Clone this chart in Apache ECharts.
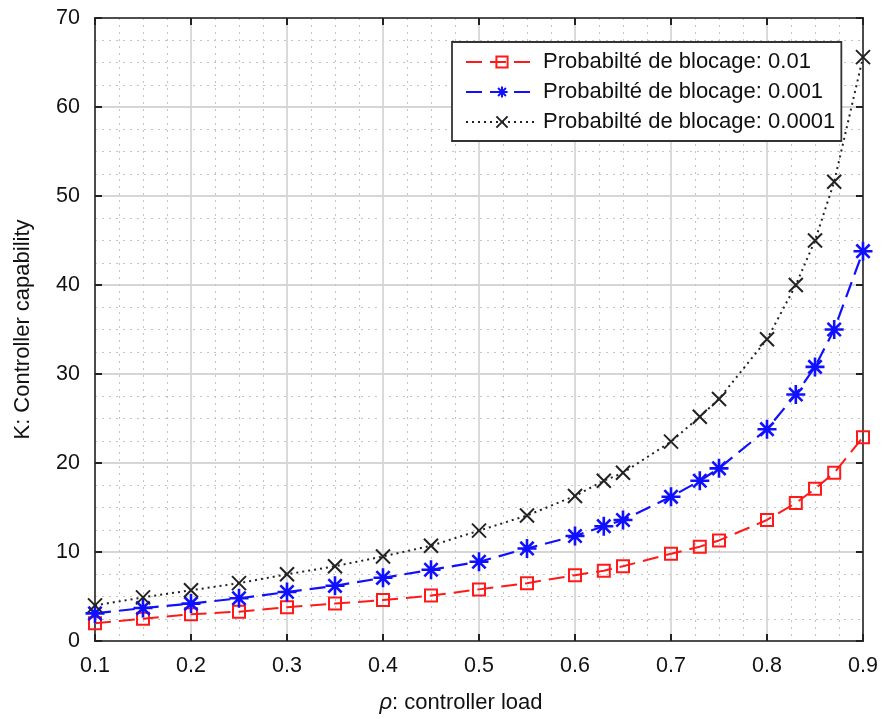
<!DOCTYPE html>
<html><head><meta charset="utf-8">
<script src="https://cdn.jsdelivr.net/npm/echarts@6/dist/echarts.min.js"></script>
<style>html,body{margin:0;padding:0;background:#fff}#c{width:886px;height:719px}</style>
</head><body><div id="c"></div>
<script>
const loads = [0.1,0.15,0.2,0.25,0.3,0.35,0.4,0.45,0.5,0.55,0.6,0.63,0.65,0.7,0.73,0.75,0.8,0.83,0.85,0.87,0.9];
const k_p01 = [2.0,2.5,3.0,3.3,3.8,4.2,4.6,5.1,5.8,6.5,7.4,7.9,8.4,9.8,10.6,11.3,13.6,15.5,17.1,18.9,22.9];
const k_p001 = [3.1,3.7,4.2,4.8,5.5,6.2,7.1,8.0,8.9,10.4,11.8,12.9,13.6,16.2,18.0,19.4,23.8,27.7,30.8,35.0,43.8];
const k_p0001 = [4.0,4.9,5.7,6.5,7.5,8.4,9.5,10.7,12.4,14.1,16.3,18.0,18.9,22.4,25.2,27.2,33.9,40.0,45.0,51.6,65.6];
const seriesNames = ['Probabilté de blocage: 0.01','Probabilté de blocage: 0.001','Probabilté de blocage: 0.0001'];
const xTicks = ['0.1','0.2','0.3','0.4','0.5','0.6','0.7','0.8','0.9'];

const zip = (ys) => loads.map((x,i)=>[x,ys[i]]);
const FONT = 'Liberation Sans';
const star = 'path://M5,0L5,10M0,5L10,5M1.5,1.5L8.5,8.5M8.5,1.5L1.5,8.5';
const cross = 'path://M0,0L10,10M10,0L0,10';

const chart = echarts.init(document.getElementById('c'), null, {renderer:'canvas'});
const gridLine = {show:true, lineStyle:{color:'#d6d6d6', width:1.8}};
const minorLine = {show:true, lineStyle:{color:'#c4c4c4', width:1, type:[2,5]}};
chart.setOption({
  animation:false,
  backgroundColor:'#fff',
  grid:{left:95, right:23, top:18, bottom:74, show:true, borderColor:'#222', borderWidth:1.5, backgroundColor:'transparent', containLabel:false},
  legend:{
    left:452, top:42, orient:'vertical', itemGap:8,
    padding:[9,6,8,13],
    backgroundColor:'#fff', borderColor:'#333', borderWidth:1.8,
    itemWidth:72, itemHeight:14,
    textStyle:{fontFamily:FONT, fontSize:22, color:'#111'},
    data:seriesNames
  },
  xAxis:[{
    type:'value', min:0.1, max:0.9, interval:0.1,
    axisLine:{show:true, onZero:false, lineStyle:{color:'#222', width:1.5}},
    axisTick:{show:true, inside:true, length:7, lineStyle:{color:'#222', width:2}},
    axisLabel:{fontFamily:FONT, fontSize:21.5, color:'#111', margin:14, formatter:(v)=>{const s=v.toFixed(1); return xTicks.includes(s)?s:'';}},
    splitLine:gridLine,
    minorTick:{show:false, splitNumber:4},
    minorSplitLine:minorLine,
    name:'{i|ρ}: controller load', nameLocation:'middle', nameGap:51,
    nameTextStyle:{fontFamily:FONT, fontSize:22, color:'#111', padding:[0,36,0,0], rich:{i:{fontFamily:FONT, fontStyle:'italic', fontSize:22, color:'#111'}}}
  },{
    type:'value', position:'top', min:0.1, max:0.9, interval:0.1,
    axisLine:{show:true, onZero:false, lineStyle:{color:'#222', width:1.5}},
    axisTick:{show:true, inside:true, length:7, lineStyle:{color:'#222', width:2}},
    axisLabel:{show:false}, splitLine:{show:false}
  }],
  yAxis:[{
    type:'value', min:0, max:70, interval:10,
    axisLine:{show:true, onZero:false, lineStyle:{color:'#222', width:1.5}},
    axisTick:{show:true, inside:true, length:7, lineStyle:{color:'#222', width:2}},
    axisLabel:{fontFamily:FONT, fontSize:21.5, color:'#111', margin:15},
    splitLine:gridLine,
    minorTick:{show:false, splitNumber:4},
    minorSplitLine:minorLine,
    name:'K: Controller capability', nameLocation:'middle', nameGap:61,
    nameTextStyle:{fontFamily:FONT, fontSize:22, color:'#111'}
  },{
    type:'value', position:'right', min:0, max:70, interval:10,
    axisLine:{show:true, onZero:false, lineStyle:{color:'#222', width:1.5}},
    axisTick:{show:true, inside:true, length:7, lineStyle:{color:'#222', width:2}},
    axisLabel:{show:false}, splitLine:{show:false}
  }],
  series:[
    {name:seriesNames[0], type:'line', data:zip(k_p01), symbol:'rect', symbolSize:12,
     lineStyle:{color:'#ff1a1a', width:2, type:[16,8]},
     itemStyle:{color:'rgba(255,255,255,0)', borderColor:'#ff1a1a', borderWidth:2}, z:3},
    {name:seriesNames[1], type:'line', data:zip(k_p001), symbol:star, symbolSize:19, symbolKeepAspect:true,
     lineStyle:{color:'#1010ff', width:2.2, type:[16,8]},
     itemStyle:{color:'none', borderColor:'#1010ff', borderWidth:2.6}, z:4},
    {name:seriesNames[2], type:'line', data:zip(k_p0001), symbol:cross, symbolSize:14, symbolKeepAspect:true,
     lineStyle:{color:'#222', width:2, type:[2,4]},
     itemStyle:{color:'none', borderColor:'#222', borderWidth:2}, z:5}
  ]
});
</script></body></html>
